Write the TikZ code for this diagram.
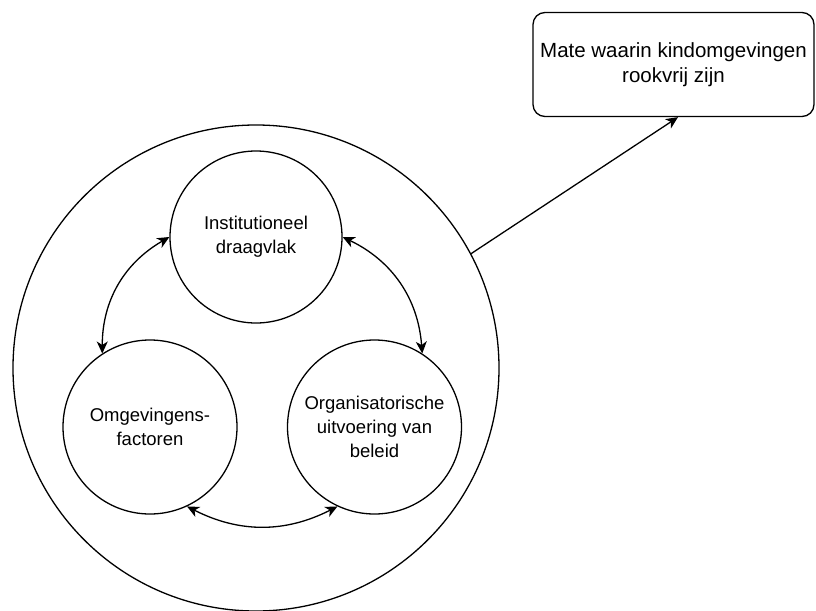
\documentclass[tikz,border=0pt]{standalone}
\usepackage{fontspec}
\setmainfont{Liberation Sans}
\usetikzlibrary{arrows.meta}

\begin{document}
\begin{tikzpicture}[x=1pt,y=-1pt,line width=1.3pt,
   bol/.style={draw,circle,inner sep=0pt,align=center,font=\fontsize{18.5}{24}\selectfont},
   pijl/.style={{Stealth[length=12pt,width=11pt,inset=3.5pt]}-{Stealth[length=12pt,width=11pt,inset=3.5pt]}}]
   \useasboundingbox (0,0) rectangle (816,610);
   \node[draw,circle,minimum size=486pt,inner sep=0pt] (geheel) at (256,368) {};
   \node[bol,minimum size=172pt] (draagvlak) at (256,237) {Institutioneel\\draagvlak};
   \node[bol,minimum size=174pt] (omgeving) at (150,427) {Omgevingens-\\factoren};
   \node[bol,minimum size=174pt] (uitvoering) at (374.5,427) {Organisatorische\\uitvoering van\\beleid};
   \node[draw,rounded corners=12pt,minimum width=281pt,minimum height=104pt,align=center,
     font=\fontsize{20.5}{25}\selectfont] (rookvrij) at (673.5,64.5) {Mate waarin kindomgevingen\\rookvrij zijn};
   % wederzijdse invloed
   \draw[pijl] (draagvlak.180) to[bend right=30] (omgeving.123);
   \draw[pijl] (draagvlak.0) to[bend left=30] (uitvoering.57);
   \draw[pijl] (omgeving.-65) to[bend right=27] (uitvoering.-115);
   % naar uitkomst
   \draw[-{Stealth[length=12pt,width=11pt,inset=3.5pt]}] (geheel.28) -- ([xshift=4.5pt]rookvrij.south);
\end{tikzpicture}
\end{document}
